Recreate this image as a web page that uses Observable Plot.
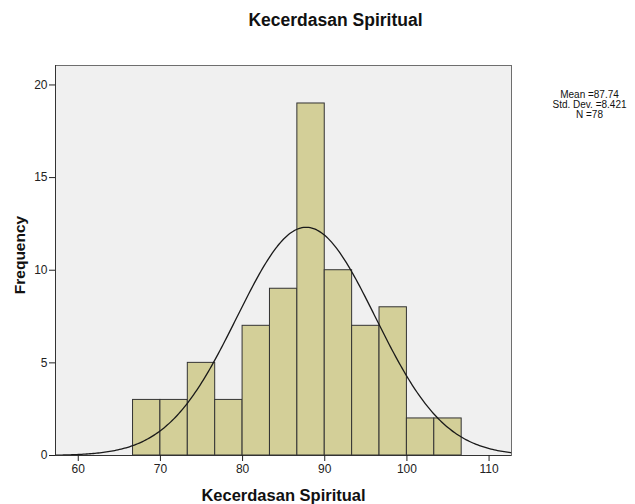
<!DOCTYPE html>
<html>
<head>
<meta charset="utf-8">
<script src="https://cdn.jsdelivr.net/npm/d3@7"></script>
<script src="https://cdn.jsdelivr.net/npm/@observablehq/plot@0.6"></script>
<style>
  html, body { margin: 0; padding: 0; background: #fff; }
  svg { font-family: "Liberation Sans", Arial, sans-serif; }
</style>
</head>
<body>
<div id="chart"></div>
<script>
// Histogram bins (lower edges, width 10/3) and frequencies
const binStarts = [66.667, 70, 73.333, 76.667, 80, 83.333, 86.667, 90, 93.333, 96.667, 100, 103.333];
const binWidth = 10 / 3;
const counts = [3, 3, 5, 3, 7, 9, 19, 10, 7, 8, 2, 2];
// Summary statistics shown in the legend
const mean = 87.74;
const stdDev = 8.421;
const n = 78;
const xTicks = [60, 70, 80, 90, 100, 110];
const yTicks = [0, 5, 10, 15, 20];

const bars = binStarts.map((x1, i) => ({x1, x2: x1 + binWidth, count: counts[i]}));

// Fitted normal curve (SPSS): N * binWidth * pdf(x; mean, sd)
const xMin = 57.23, xMax = 112.73;
const curve = d3.range(xMin, xMax + 0.001, 0.2).map(x => ({
  x,
  y: n * binWidth * Math.exp(-0.5 * ((x - mean) / stdDev) ** 2) / (stdDev * Math.sqrt(2 * Math.PI))
}));

const chart = Plot.plot({
  width: 635,
  height: 504,
  marginLeft: 55,
  marginRight: 124,
  marginTop: 65,
  marginBottom: 49,
  style: {fontSize: "12px", fontFamily: "'Liberation Sans', Arial, sans-serif", color: "#222", background: "#fff"},
  x: {domain: [xMin, xMax]},
  y: {domain: [0, 21.05]},
  marks: [
    Plot.frame({fill: "#f0f0f0", stroke: "#6e6e6e"}),
    Plot.rectY(bars, {x1: "x1", x2: "x2", y: "count", fill: "#d3cf98", stroke: "#333", strokeWidth: 1}),
    Plot.line(curve, {x: "x", y: "y", stroke: "#1a1a1a", strokeWidth: 1.3}),
    Plot.ruleY([0], {stroke: "#333"}),
    Plot.ruleX([xMin], {stroke: "#333"}),
    Plot.axisY({ticks: yTicks, tickSize: 6, tickPadding: 2, label: null, fontSize: 12}),
    Plot.axisX({ticks: xTicks, tickSize: 6, tickPadding: 3, label: null, fontSize: 12}),
    Plot.text(["Kecerdasan Spiritual"], {frameAnchor: "top", lineAnchor: "middle", dx: 52, dy: -45, fontSize: 17.5, fontWeight: "bold", fill: "#111"}),
    Plot.text(["Kecerdasan Spiritual"], {frameAnchor: "bottom", lineAnchor: "middle", dy: 40, fontSize: 16.5, fontWeight: "bold", fill: "#111"}),
    Plot.text(["Frequency"], {frameAnchor: "left", textAnchor: "middle", dx: -35, dy: -5.5, rotate: -90, fontSize: 15.5, fontWeight: "bold", fill: "#111"}),
    Plot.text([`Mean =${mean}\nStd. Dev. =${stdDev}\nN =${n}`], {frameAnchor: "top-right", dx: 78, dy: 39, lineAnchor: "middle", textAnchor: "middle", fontSize: 10, lineHeight: 1, fill: "#111"})
  ]
});
document.getElementById("chart").appendChild(chart);
</script>
</body>
</html>
